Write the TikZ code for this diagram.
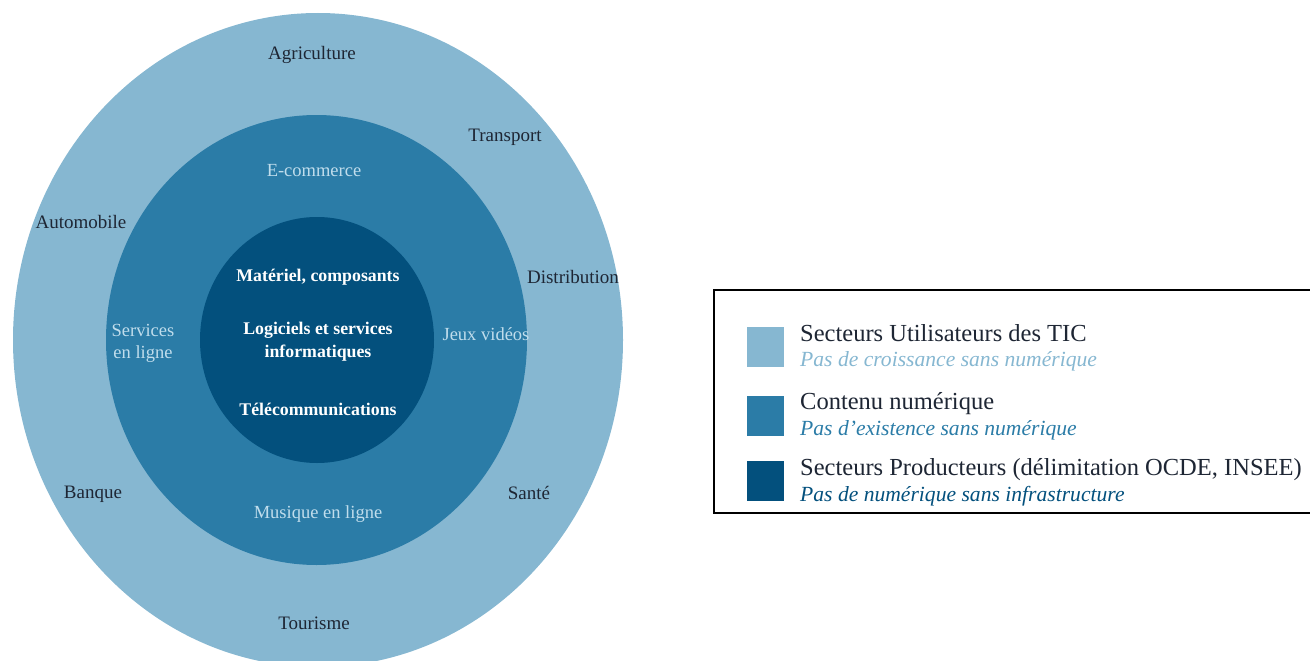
\documentclass[tikz,border=0pt]{standalone}
\usepackage{fontspec}
\setmainfont{Liberation Serif}
\definecolor{usercol}{RGB}{134,183,209}
\definecolor{contentcol}{RGB}{43,124,167}
\definecolor{prodcol}{RGB}{3,80,125}
\definecolor{ringtext}{RGB}{192,221,236}
\definecolor{darktext}{RGB}{30,38,52}
\tikzset{
  sector/.style={text=darktext,font=\fontsize{19}{21}\selectfont,align=center},
  content/.style={text=ringtext,font=\fontsize{18.5}{22}\selectfont,align=center},
  producer/.style={text=white,font=\bfseries\fontsize{17.8}{23}\selectfont,align=center},
  legendsq/.style={minimum width=37pt,minimum height=40pt,inner sep=0pt},
  legendtitle/.style={anchor=west,inner sep=0pt,text=darktext,font=\fontsize{24.5}{26}\selectfont},
  legendsub/.style={anchor=west,inner sep=0pt,font=\itshape\fontsize{21.6}{23}\selectfont},
}
\begin{document}
\begin{tikzpicture}[x=1pt,y=-1pt]
    \useasboundingbox (0,0) rectangle (1310,661);

    % the three rings
    \fill [usercol] (318,340) ellipse [x radius=305pt, y radius=327pt];
    \fill [contentcol] (316.5,340) ellipse [x radius=210.5pt, y radius=225pt];
    \fill [prodcol] (317,340) ellipse [x radius=117pt, y radius=123pt];

    % outer ring: user sectors
    \node [sector] (agri) at (312,55) {Agriculture};
    \node [sector] (transport) at (505,137) {Transport};
    \node [sector] (auto) at (81,222) {Automobile};
    \node [sector] (distrib) at (573,277) {Distribution};
    \node [sector] (banque) at (93,494) {Banque};
    \node [sector] (sante) at (529,493) {Santé};
    \node [sector] (tourisme) at (314,623) {Tourisme};

    % middle ring: digital content
    \node [content] (ecom) at (314,171) {E-commerce};
    \node [content] (services) at (143,343) {Services\\en ligne};
    \node [content] (jeux) at (486,334) {Jeux vidéos};
    \node [content] (musique) at (318,514) {Musique en ligne};

    % inner circle: producers
    \node [producer] (materiel) at (318,277) {Matériel, composants};
    \node [producer] (logiciels) at (318,342) {Logiciels et services\\informatiques};
    \node [producer] (telecom) at (318,409) {Télécommunications};

    % legend
    \draw [line width=1.5pt] (714,290) rectangle (1330,513);
    \node [legendsq,fill=usercol] (squser) at (765,347) {};
    \node [legendsq,fill=contentcol] (sqcontent) at (765,416) {};
    \node [legendsq,fill=prodcol] (sqprod) at (765,481) {};
    \node [legendtitle] (tuser) at (800,333) {Secteurs Utilisateurs des TIC};
    \node [legendsub,text=usercol] (suser) at (800,361) {Pas de croissance sans numérique};
    \node [legendtitle] (tcontent) at (800,404) {Contenu numérique};
    \node [legendsub,text=contentcol] (scontent) at (800,430) {Pas d'existence sans numérique};
    \node [legendtitle] (tprod) at (800,470) {Secteurs Producteurs (délimitation OCDE, INSEE)};
    \node [legendsub,text=prodcol] (sprod) at (800,496) {Pas de numérique sans infrastructure};
\end{tikzpicture}
\end{document}
